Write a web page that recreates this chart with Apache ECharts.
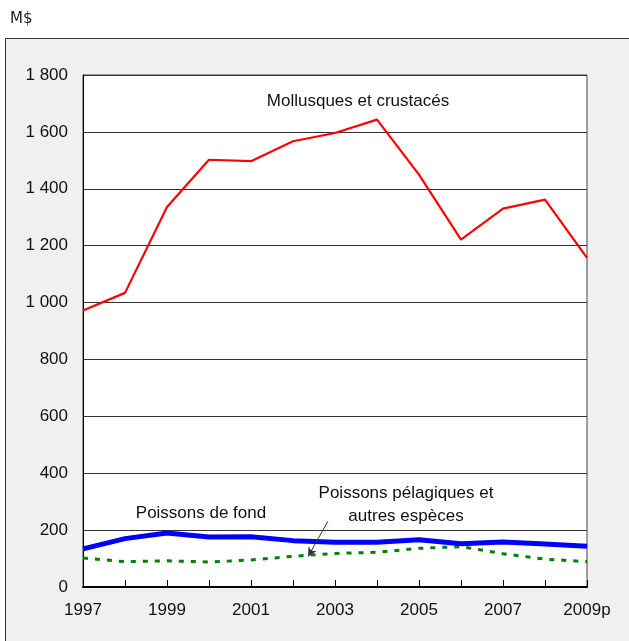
<!DOCTYPE html>
<html>
<head>
<meta charset="utf-8">
<script src="https://cdn.jsdelivr.net/npm/echarts@6/dist/echarts.min.js"></script>
<style>
  html, body { margin: 0; padding: 0; background: #fff; }
  #chart { width: 629px; height: 641px; }
</style>
</head>
<body>
<div id="chart"></div>
<script>
// Years on the horizontal axis (2009 is preliminary)
const years = [1997, 1998, 1999, 2000, 2001, 2002, 2003, 2004, 2005, 2006, 2007, 2008, 2009];
const yearLabels = ['1997', '', '1999', '', '2001', '', '2003', '', '2005', '', '2007', '', '2009p'];

// Landed values, millions of dollars
const mollusques = [972, 1034, 1336, 1502, 1497, 1567, 1596, 1643, 1450, 1221, 1330, 1362, 1157];
const poissonsFond = [134, 170, 190, 176, 177, 163, 157, 157, 166, 152, 158, 151, 143];
const pelagiques = [102, 89, 92, 88, 95, 108, 118, 122, 136, 142, 117, 98, 89];

// Pointer from the pelagic-species caption down to its line
const arrowFrom = [2002.83, 231];
const arrowTo = [2002.36, 107];

const pairs = arr => years.map((y, i) => [y, arr[i]]);
const fmtThousands = v => String(v).replace(/\B(?=(\d{3})+(?!\d))/g, ' ');

const FONT = '"Liberation Sans", Arial, sans-serif';
const chart = echarts.init(document.getElementById('chart'), null, { renderer: 'canvas' });

chart.setOption({
  backgroundColor: '#fff',
  animation: false,
  textStyle: { fontFamily: FONT },
  graphic: [
    {
      type: 'rect', z: -10, silent: true,
      shape: { x: 5.5, y: 38.5, width: 640, height: 620 },
      style: { fill: '#f0f0f0', stroke: '#333', lineWidth: 1 }
    },
    {
      type: 'text', left: 10, top: 12,
      style: { text: 'M$', font: '15px "DejaVu Sans", Verdana, sans-serif', fill: '#222' }
    },
    {
      type: 'text', x: 358, y: 101,
      style: { text: 'Mollusques et crustacés', font: '17px ' + FONT, fill: '#111',
               textAlign: 'center', textVerticalAlign: 'middle' }
    },
    {
      type: 'text', x: 201, y: 513,
      style: { text: 'Poissons de fond', font: '17px ' + FONT, fill: '#111',
               textAlign: 'center', textVerticalAlign: 'middle' }
    },
    {
      type: 'text', x: 406, y: 505,
      style: { text: 'Poissons pélagiques et\nautres espèces', font: '17px ' + FONT, fill: '#111',
               textAlign: 'center', textVerticalAlign: 'middle', lineHeight: 23 }
    }
  ],
  grid: {
    left: 83, top: 75, right: 42, bottom: 54,
    show: true, backgroundColor: '#fff', borderColor: '#444', borderWidth: 1
  },
  xAxis: {
    type: 'value', min: 1997, max: 2009, interval: 1,
    axisLine: { show: true, onZero: false, lineStyle: { color: '#000', width: 2 } },
    axisTick: { show: true, inside: true, length: 7, lineStyle: { color: '#000', width: 1 } },
    splitLine: { show: false },
    axisLabel: {
      color: '#111', fontSize: 17, fontFamily: FONT, margin: 15,
      formatter: v => yearLabels[years.indexOf(v)] || ''
    }
  },
  yAxis: {
    type: 'value', min: 0, max: 1800, interval: 200,
    axisLine: { show: true, lineStyle: { color: '#000', width: 1 } },
    axisTick: { show: false },
    splitLine: { show: true, lineStyle: { color: '#333', width: 1 } },
    axisLabel: {
      color: '#111', fontSize: 17, fontFamily: FONT, margin: 15,
      formatter: v => fmtThousands(v)
    }
  },
  series: [
    {
      name: 'Mollusques et crustacés', type: 'line', data: pairs(mollusques),
      symbol: 'none', lineStyle: { color: '#ff0000', width: 2.2 }, z: 5
    },
    {
      name: 'Poissons de fond', type: 'line', data: pairs(poissonsFond),
      symbol: 'none', lineStyle: { color: '#0000ff', width: 5 }, z: 4
    },
    {
      name: 'Poissons pélagiques et autres espèces', type: 'line', data: pairs(pelagiques),
      symbol: 'none', lineStyle: { color: '#008000', width: 3, type: [5, 7] }, z: 3,
      markLine: {
        silent: true, animation: false,
        symbol: ['none', 'arrow'], symbolSize: [7, 9],
        label: { show: false },
        lineStyle: { color: '#333', width: 1, type: 'solid' },
        data: [[{ coord: arrowFrom }, { coord: arrowTo }]]
      }
    }
  ]
});
</script>
</body>
</html>
